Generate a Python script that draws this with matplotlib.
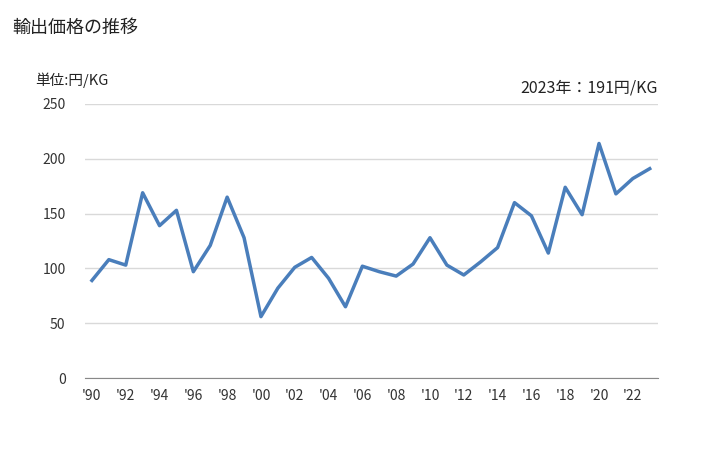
import numpy as np
import matplotlib
matplotlib.use('Agg')
import matplotlib.pyplot as plt

plt.rcParams['font.family'] = ['Noto Sans CJK JP', 'DejaVu Sans']

years = list(range(1990, 2024))
prices = [89, 108, 103, 169, 139, 153, 97, 121, 165, 128,
          56, 82, 101, 110, 91, 65, 102, 97, 93, 104,
          128, 103, 94, 106, 119, 160, 148, 114, 174, 149,
          214, 168, 182, 191]
tick_years = years[::2]
tick_labels = ["'" + str(y)[2:] for y in tick_years]

fig = plt.figure(figsize=(7.28, 4.5), dpi=100)
ax = fig.add_axes([85 / 728, 1 - 378 / 450, (658 - 85) / 728, (378 - 104) / 450])

# data
ax.plot(years, prices, color='#4a7ebb', linewidth=2.5)

# axes
ax.set_ylim(0, 250)
ax.set_xlim(1989.59, 2023.49)
ax.set_yticks(range(0, 251, 50))
ax.set_xticks(tick_years)
ax.set_xticklabels(tick_labels)
ax.grid(axis='y', color='#d9d9d9', linewidth=1)
ax.set_axisbelow(True)
for s in ['top', 'right', 'left']:
    ax.spines[s].set_visible(False)
ax.spines['bottom'].set_color('#888888')
ax.tick_params(axis='both', length=0, labelsize=10, colors='#333333')
ax.tick_params(axis='x', pad=8)
ax.tick_params(axis='y', pad=14)

# text
fig.text(12 / 728, 1 - 28 / 450, '輸出価格の推移', fontsize=13, va='center', color='#222222')
fig.text(35 / 728, 1 - 80 / 450, '単位:円/KG', fontsize=10.5, va='center', color='#222222')
fig.text(658 / 728, 1 - 88 / 450, '2023年：191円/KG', fontsize=11.5, va='center', ha='right', color='#222222')

plt.savefig('out.png', dpi=100)
